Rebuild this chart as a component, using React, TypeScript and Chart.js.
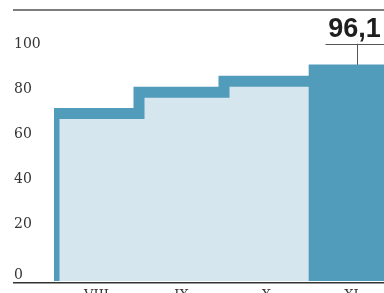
import React, { useEffect, useRef } from "react";
import { Chart, registerables } from "chart.js";

Chart.register(...registerables);

// ---- data ----
const categories = ["VIII", "IX", "X", "XI"];
const stepValues = [74.4, 83.9, 88.8]; // outlined steps for VIII, IX, X
const lastValue = 96.1; // highlighted bar XI
const lastLabel = "96,1";
const yTickValues = [0, 20, 40, 60, 80, 100];

const DARK = "#519cba";
const LIGHT = "#d5e6ee";

const CW = 400;
const CH = 310;

const decorPlugin = {
  id: "decor",
  afterDraw(chart: any) {
    const { ctx } = chart;
    const yScale = chart.scales.y;
    ctx.save();
    // top rule
    ctx.fillStyle = "#7d7d7d";
    ctx.fillRect(13, 9, chart.width - 13, 2);
    // baseline
    const y0 = yScale.getPixelForValue(0);
    ctx.fillStyle = "#333333";
    ctx.fillRect(13, y0 + 1, chart.width - 13, 1.5);
    // value label for the highlighted bar
    const bar = chart.getDatasetMeta(0).data[categories.length - 1];
    if (bar) {
      const bx = bar.x;
      const by = bar.y;
      ctx.strokeStyle = "#555555";
      ctx.lineWidth = 1;
      ctx.beginPath();
      ctx.moveTo(Math.round(bx + 5) + 0.5, by);
      ctx.lineTo(Math.round(bx + 5) + 0.5, by - 21);
      ctx.stroke();
      ctx.beginPath();
      ctx.moveTo(bx - 26, Math.round(by - 21) + 0.5);
      ctx.lineTo(chart.width, Math.round(by - 21) + 0.5);
      ctx.stroke();
      ctx.fillStyle = "#1e1e1e";
      ctx.font = "bold 27px 'Liberation Sans', Arial, sans-serif";
      ctx.textAlign = "center";
      ctx.textBaseline = "alphabetic";
      ctx.fillText(lastLabel, bx + 3, by - 28);
    }
    ctx.restore();
  },
};

export default function App() {
  const ref = useRef<HTMLCanvasElement | null>(null);

  useEffect(() => {
    if (!ref.current) return;
    const stepPoints = [
      { x: -0.5, y: 0 },
      ...stepValues.map((v, i) => ({ x: i - 0.5, y: v })),
      { x: stepValues.length, y: stepValues[stepValues.length - 1] },
    ];
    const barData = categories.map((_, i) =>
      i === categories.length - 1 ? lastValue : null
    );

    const chart = new Chart(ref.current, {
      type: "bar",
      data: {
        labels: categories,
        datasets: [
          {
            type: "bar",
            data: barData,
            backgroundColor: DARK,
            borderWidth: 0,
            barPercentage: 1,
            categoryPercentage: 1,
            grouped: false,
            xAxisID: "x",
            yAxisID: "y",
            order: 0,
          } as any,
          {
            type: "line",
            data: stepPoints,
            stepped: "before",
            borderColor: DARK,
            borderWidth: 11,
            borderJoinStyle: "miter",
            borderCapStyle: "butt",
            backgroundColor: LIGHT,
            fill: "origin",
            pointRadius: 0,
            tension: 0,
            xAxisID: "xl",
            yAxisID: "y",
            order: 1,
          } as any,
        ],
      },
      options: {
        responsive: false,
        animation: false,
        devicePixelRatio: 1,
        layout: { padding: { left: 14, top: 56, right: 6, bottom: 0 } },
        plugins: {
          legend: { display: false },
          tooltip: { enabled: false },
          title: { display: false },
        },
        scales: {
          x: {
            type: "category",
            offset: true,
            grid: { display: false, drawTicks: false },
            border: { display: false },
            ticks: {
              color: "#333333",
              font: { family: "'DejaVu Serif', serif", size: 13 },
              padding: 7,
              maxRotation: 0,
            },
            afterFit: (s: any) => {
              s.height = 29;
            },
          },
          xl: {
            type: "linear",
            display: false,
            offset: false,
            min: -0.5,
            max: categories.length - 0.5,
            ticks: { display: false },
            grid: { display: false, offset: false },
          },
          y: {
            type: "linear",
            position: "left",
            min: 0,
            max: 100,
            grid: { display: false },
            border: { display: false },
            afterBuildTicks: (s: any) => {
              s.ticks = yTickValues.map((v) => ({ value: v }));
            },
            ticks: {
              color: "#333333",
              font: { family: "'DejaVu Serif', serif", size: 14, lineHeight: 0.86 },
              crossAlign: "far",
              labelOffset: -12,
              padding: 0,
              callback: (v: any) => (Number(v) === 0 ? ["", String(v)] : String(v)),
            },
            afterFit: (s: any) => {
              s.width = 40;
            },
          },
        },
      } as any,
      plugins: [decorPlugin],
    });
    return () => chart.destroy();
  }, []);

  return (
    <div
      style={{
        position: "fixed",
        left: 0,
        top: 0,
        width: 384,
        height: 293,
        overflow: "hidden",
        background: "#ffffff",
      }}
    >
      <canvas ref={ref} width={CW} height={CH} style={{ width: CW, height: CH, display: "block" }} />
    </div>
  );
}
